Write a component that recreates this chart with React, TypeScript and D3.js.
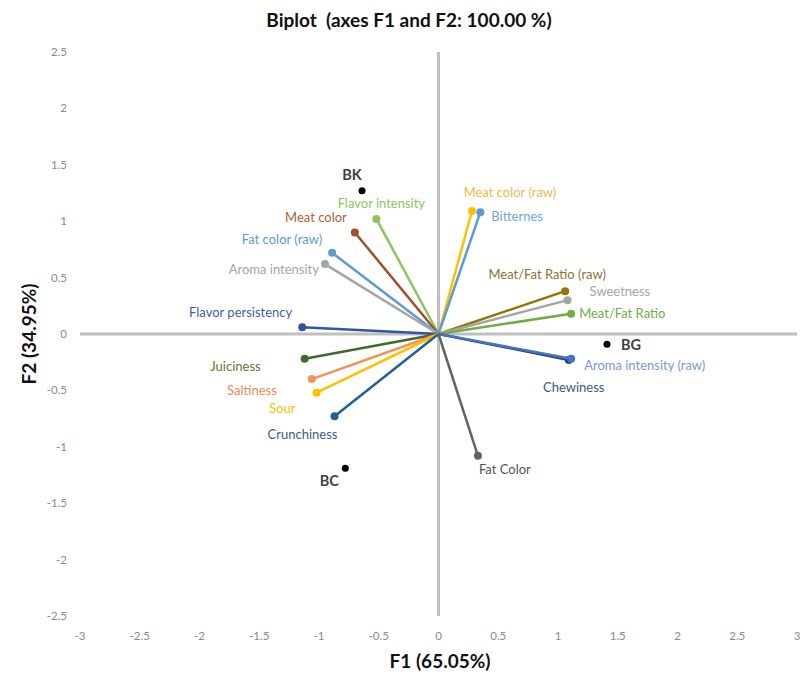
import React from "react";
import * as d3 from "d3";

const variableNames = [
  "Flavor intensity", "Meat color", "Fat color (raw)", "Aroma intensity", "Flavor persistency",
  "Juiciness", "Saltiness", "Sour", "Crunchiness", "Meat color (raw)", "Bitternes",
  "Meat/Fat Ratio (raw)", "Sweetness", "Meat/Fat Ratio", "Chewiness", "Aroma intensity (raw)", "Fat Color",
];
const variableF1 = [-0.52, -0.70, -0.89, -0.95, -1.14, -1.12, -1.06, -1.02, -0.87, 0.28, 0.35, 1.06, 1.08, 1.11, 1.09, 1.11, 0.33];
const variableF2 = [1.02, 0.90, 0.72, 0.62, 0.06, -0.22, -0.40, -0.52, -0.73, 1.09, 1.08, 0.38, 0.30, 0.18, -0.23, -0.22, -1.08];

const obsNames = ["BK", "BG", "BC"];
const obsF1 = [-0.64, 1.41, -0.78];
const obsF2 = [1.27, -0.09, -1.19];

const xTicks = [-3, -2.5, -2, -1.5, -1, -0.5, 0, 0.5, 1, 1.5, 2, 2.5, 3];
const yTicks = [-2.5, -2, -1.5, -1, -0.5, 0, 0.5, 1, 1.5, 2, 2.5];

// styles
const lineColors = [
  "#8cc45e", "#a0502a", "#5b9bd5", "#a5a5a5", "#2f55a4",
  "#43682b", "#f0925a", "#ffc000", "#255e91", "#ffc000", "#5b9bd5",
  "#997300", "#a5a5a5", "#70ad47", "#264478", "#4472c4", "#636363",
];
const textColors = [
  "#8cc45e", "#b0603a", "#5b9bd5", "#a5a5a5", "#3f5ea0",
  "#5a7a35", "#ed8a55", "#ffc000", "#3b5c8a", "#f2b94b", "#6fa8dc",
  "#8a7338", "#a5a5a5", "#70ad47", "#3b5a8a", "#7b98d4", "#555555",
];
// label offsets: [dx, dy, anchor]
const labelLayout: [number, number, string][] = [
  [5, -15, "middle"], [-8, -15, "end"], [-10, -13, "end"], [-6, 5, "end"], [-10, -15, "end"],
  [-44, 8, "end"], [-35, 11, "end"], [-21, 16, "end"], [-32, 18, "middle"], [38, -19, "middle"], [11, 4, "start"],
  [-18, -17, "middle"], [22, -9, "start"], [8, 0, "start"], [5, 28, "middle"], [13, 7, "start"], [1, 14, "start"],
];
const obsLayout: [number, number, string][] = [[-10, -16, "middle"], [14, 1, "start"], [-16, 13, "middle"]];

const W = 800, H = 673;
const font = "Lato, 'Open Sans', sans-serif";

export default function App() {
  const x = d3.scaleLinear().domain([-3, 3]).range([80, 797]);
  const y = d3.scaleLinear().domain([-2.5, 2.5]).range([616, 52]);
  const x0 = x(0), y0 = y(0);
  return (
    <svg width={W} height={H} style={{ position: "absolute", left: 0, top: 0, background: "#fff" }} fontFamily={font}>
      <text x={409} y={27} textAnchor="middle" fontSize={19} fontWeight="bold" fill="#111" style={{ whiteSpace: "pre" }}>
        {"Biplot  (axes F1 and F2: 100.00 %)"}
      </text>
      {yTicks.map((t) => (
        <text key={"y" + t} x={67} y={y(t) + 4} textAnchor="end" fontSize={11.5} fill="#8a8a8a">{t}</text>
      ))}
      {xTicks.map((t) => (
        <text key={"x" + t} x={x(t)} y={640} textAnchor="middle" fontSize={11.5} fill="#8a8a8a">{t}</text>
      ))}
      <text x={440} y={668} textAnchor="middle" fontSize={19} fontWeight="bold" fill="#111">F1 (65.05%)</text>
      <text transform={`translate(36,${y0}) rotate(-90)`} textAnchor="middle" fontSize={19} fontWeight="bold" fill="#111">F2 (34.95%)</text>
      <line x1={x(-3)} x2={x(3)} y1={y0} y2={y0} stroke="#bfbfbf" strokeWidth={3} />
      <line x1={x0} x2={x0} y1={y(2.5)} y2={y(-2.5)} stroke="#bfbfbf" strokeWidth={3} />
      {variableNames.map((n, i) => (
        <g key={n}>
          <line x1={x0} y1={y0} x2={x(variableF1[i])} y2={y(variableF2[i])} stroke={lineColors[i]} strokeWidth={2.5} />
          <circle cx={x(variableF1[i])} cy={y(variableF2[i])} r={4} fill={lineColors[i]} />
        </g>
      ))}
      {variableNames.map((n, i) => (
        <text key={"l" + n} x={x(variableF1[i]) + labelLayout[i][0]} y={y(variableF2[i]) + labelLayout[i][1] + 4.5}
          textAnchor={labelLayout[i][2] as any} fontSize={13} fill={textColors[i]}>{n}</text>
      ))}
      {obsNames.map((n, i) => (
        <g key={n}>
          <circle cx={x(obsF1[i])} cy={y(obsF2[i])} r={3.5} fill="#000" />
          <text x={x(obsF1[i]) + obsLayout[i][0]} y={y(obsF2[i]) + obsLayout[i][1] + 5}
            textAnchor={obsLayout[i][2] as any} fontSize={14.5} fontWeight="bold" fill="#404040">{n}</text>
        </g>
      ))}
    </svg>
  );
}
